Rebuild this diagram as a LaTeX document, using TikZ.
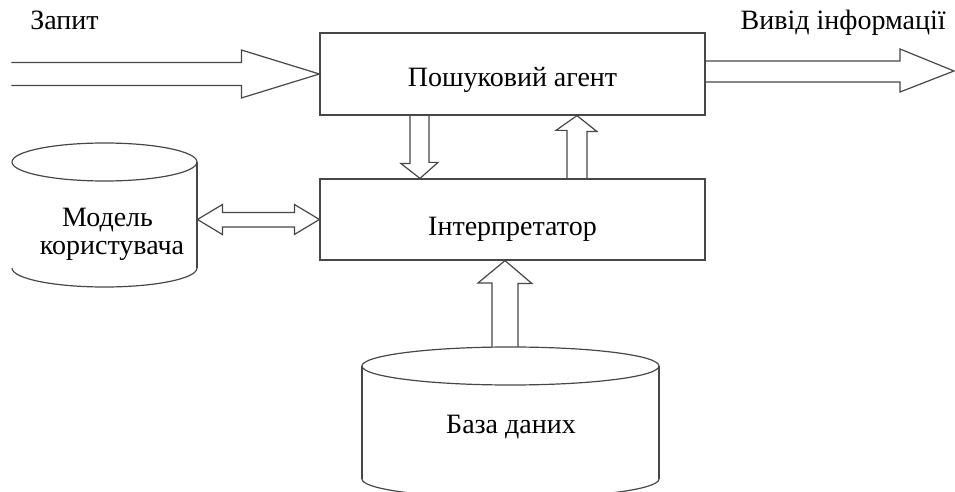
\documentclass[tikz,border=0pt]{standalone}
\usepackage{fontspec}
\setmainfont{Liberation Serif}
\usetikzlibrary{calc}
\begin{document}
\begin{tikzpicture}[x=0.5pt,y=-0.5pt,
  ln/.style={draw=black!72, line width=0.6pt, line join=miter},
  lbl/.style={font=\fontsize{14}{17}\selectfont, inner sep=0pt, text=black},
  blk/.style={ln, rectangle, minimum width=192.5pt, minimum height=41pt, inner sep=0pt,
              text depth=0pt, font=\fontsize{14}{17}\selectfont}]
\useasboundingbox (0,0) rectangle (955,492);
% boxes
\node[blk, text height=13pt] (agent) at (512.5,74) {Пошуковий агент};
\node[blk, minimum height=40.5pt, text height=15.5pt] (interp) at (512.5,219.5) {Інтерпретатор};
% labels
\node[lbl, anchor=base west] (query) at (30,30) {Запит};
\node[lbl, anchor=base east] (output) at (946,30) {Вивід інформації};
% user model cylinder
\draw[ln] (104.5,162) ellipse [x radius=92.5, y radius=19];
\draw[ln] (197,162) -- (197,268);
\draw[ln] (12,268) .. controls (12,278.5) and (53.4,287) .. (104.5,287)
          .. controls (155.6,287) and (197,278.5) .. (197,268);
\node[lbl, anchor=base, text depth=0.5pt] (model1) at (107.5,227) {Модель};
\node[lbl, anchor=base, text height=7pt] (model2) at (112,255) {користувача};
\coordinate (modelR) at (197.5,219.5);
% database cylinder
\draw[ln] (510.5,366) ellipse [x radius=148.5, y radius=19];
\draw[ln] (362,366) -- (362,479);
\draw[ln] (659,366) -- (659,479);
\draw[ln] (362,479) .. controls (362,489.5) and (428.5,498) .. (510.5,498)
          .. controls (592.5,498) and (659,489.5) .. (659,479);
\node[lbl, anchor=base] (db) at (511,433) {База даних};
\coordinate (dbTop) at (505,347);
% input arrow
\draw[ln] ($(agent.west)+(-308,-11.5)$) -- ++(230,0) -- ++(0,-12.5) -- (agent.west)
          -- ++(-78,24) -- ++(0,-12.5) -- ++(-230,0);
% output arrow
\coordinate (outtip) at (954,71);
\draw[ln] ($(agent.east)+(0,-13)$) -- (900,61) -- (900,49) -- (outtip)
          -- (900,92) -- (900,82) -- ($(agent.east)+(0,8)$);
% agent -> interpreter
\draw[ln] ($(agent.south)+(-102.5,0)$) -- ++(0,48) -- ++(-9,0)
          -- ($(interp.north)+(-92.5,0)$) -- ++(18,-16) -- ++(-9,0) -- ($(agent.south)+(-83.5,0)$);
% interpreter -> agent
\draw[ln] ($(interp.north)+(54.5,0)$) -- ++(0,-48) -- ++(-11,0)
          -- ($(agent.south)+(64.5,0)$) -- ++(20,16) -- ++(-10,0) -- ($(interp.north)+(74.5,0)$);
% database -> interpreter
\draw[ln] ($(dbTop)+(-13,0)$) -- ++(0,-64) -- ++(-14,0)
          -- ($(interp.south)+(-7.5,0)$) -- ++(27,23) -- ++(-14,0) -- ($(dbTop)+(13,0)$);
% model <-> interpreter
\draw[ln] (modelR) -- ++(25,-15) -- ++(0,8) -- ++(72,0) -- ++(0,-8)
          -- (interp.west) -- ++(-25,15) -- ++(0,-7.5) -- ++(-72,0) -- ++(0,7.5) -- cycle;
\end{tikzpicture}
\end{document}
